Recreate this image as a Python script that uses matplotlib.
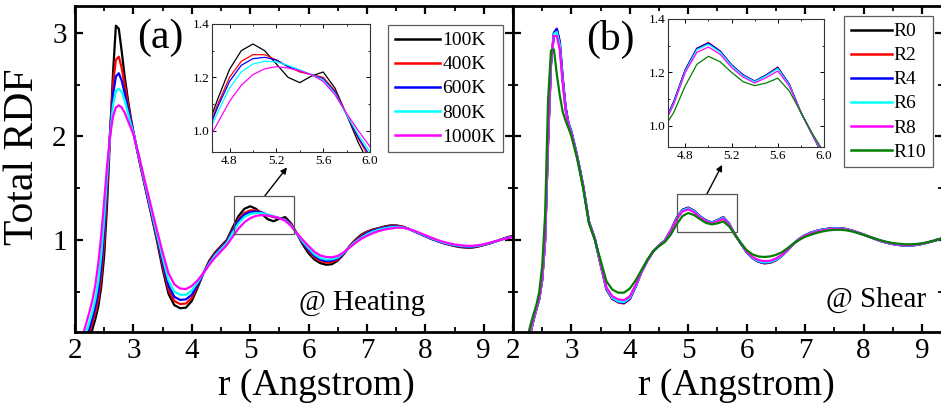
import matplotlib
matplotlib.use("Agg")
import matplotlib.pyplot as plt
from matplotlib.patches import Rectangle
from matplotlib.lines import Line2D
from matplotlib.ticker import MultipleLocator, FormatStrFormatter

plt.rcParams['font.family'] = 'serif'
plt.rcParams['font.serif'] = ['Liberation Serif', 'DejaVu Serif']
plt.rcParams['mathtext.fontset'] = 'custom'
plt.rcParams['mathtext.rm'] = 'Liberation Serif'
plt.rcParams['axes.formatter.use_mathtext'] = False

SERIF = 'Liberation Serif'

# ---------------- data ----------------
r = [2.10, 2.15, 2.20, 2.25, 2.30, 2.35, 2.40, 2.45, 2.50, 2.55, 2.60, 2.65, 2.70, 2.75, 2.80, 2.85, 2.90, 2.95, 3.00,
     3.1, 3.2, 3.3, 3.4, 3.5, 3.6, 3.7, 3.8, 3.9,
     4.0, 4.1, 4.2, 4.3, 4.4, 4.5, 4.6, 4.7, 4.8, 4.9,
     5.0, 5.1, 5.2, 5.3, 5.4, 5.5, 5.6, 5.7, 5.8, 5.9,
     6.0, 6.1, 6.2, 6.3, 6.4, 6.5, 6.6, 6.7, 6.8, 6.9,
     7.0, 7.1, 7.2, 7.3, 7.4, 7.5, 7.6, 7.7, 7.8, 7.9,
     8.0, 8.1, 8.2, 8.3, 8.4, 8.5, 8.6, 8.7, 8.8, 8.9,
     9.0, 9.1, 9.2, 9.3, 9.4, 9.5]

heat_labels = ['100K', '400K', '600K', '800K', '1000K']
heat_colors = ['#000000', '#ff0000', '#0000ff', '#00ffff', '#ff00ff']

g_100K = [-0.30, -0.20, -0.10, 0.02, 0.14, 0.24, 0.36, 0.55, 0.85, 1.35, 2.00, 2.60, 3.07, 3.04, 2.82, 2.58, 2.38, 2.20, 2.04,
          1.77, 1.51, 1.26, 1.00, 0.72, 0.48, 0.37, 0.34, 0.345,
          0.41, 0.54, 0.68, 0.80, 0.88, 0.94, 1.00, 1.12, 1.23, 1.30,
          1.325, 1.30, 1.25, 1.20, 1.18, 1.205, 1.22, 1.16, 1.06, 0.955,
          0.87, 0.81, 0.775, 0.76, 0.765, 0.80, 0.86, 0.94, 1.00, 1.05,
          1.08, 1.10, 1.115, 1.13, 1.14, 1.14, 1.13, 1.11, 1.085, 1.06,
          1.035, 1.01, 0.99, 0.97, 0.955, 0.94, 0.93, 0.925, 0.925, 0.935,
          0.95, 0.965, 0.985, 1.005, 1.025, 1.04]
g_400K = [-0.20, -0.10, 0.00, 0.10, 0.20, 0.30, 0.43, 0.64, 0.98, 1.48, 2.05, 2.50, 2.74, 2.77, 2.66, 2.50, 2.34, 2.18, 2.04,
          1.77, 1.52, 1.27, 1.02, 0.76, 0.52, 0.41, 0.38, 0.385,
          0.44, 0.56, 0.68, 0.79, 0.87, 0.93, 0.99, 1.10, 1.20, 1.26,
          1.285, 1.285, 1.265, 1.24, 1.22, 1.21, 1.20, 1.15, 1.06, 0.97,
          0.895, 0.83, 0.795, 0.78, 0.785, 0.81, 0.865, 0.935, 0.995, 1.04,
          1.075, 1.095, 1.11, 1.125, 1.135, 1.135, 1.13, 1.11, 1.085, 1.06,
          1.035, 1.01, 0.99, 0.97, 0.955, 0.943, 0.935, 0.93, 0.93, 0.938,
          0.952, 0.967, 0.985, 1.005, 1.022, 1.035]
g_600K = [-0.15, -0.05, 0.05, 0.15, 0.25, 0.36, 0.50, 0.74, 1.10, 1.57, 2.03, 2.40, 2.58, 2.61, 2.54, 2.42, 2.29, 2.16, 2.04,
          1.78, 1.53, 1.28, 1.04, 0.79, 0.56, 0.45, 0.42, 0.425,
          0.47, 0.57, 0.68, 0.78, 0.86, 0.92, 0.98, 1.09, 1.185, 1.245,
          1.27, 1.275, 1.265, 1.24, 1.225, 1.21, 1.195, 1.145, 1.06, 0.975,
          0.905, 0.845, 0.81, 0.795, 0.80, 0.82, 0.87, 0.93, 0.985, 1.03,
          1.065, 1.09, 1.105, 1.12, 1.13, 1.13, 1.125, 1.108, 1.085, 1.06,
          1.036, 1.012, 0.99, 0.972, 0.958, 0.946, 0.938, 0.934, 0.934, 0.94,
          0.953, 0.968, 0.985, 1.003, 1.02, 1.032]
g_800K = [-0.08, 0.02, 0.12, 0.21, 0.31, 0.43, 0.60, 0.86, 1.21, 1.63, 2.00, 2.30, 2.44, 2.46, 2.43, 2.35, 2.24, 2.13, 2.03,
          1.79, 1.54, 1.30, 1.06, 0.83, 0.61, 0.50, 0.47, 0.47,
          0.51, 0.59, 0.68, 0.77, 0.85, 0.91, 0.97, 1.07, 1.16, 1.22,
          1.25, 1.26, 1.258, 1.245, 1.228, 1.21, 1.19, 1.14, 1.06, 0.985,
          0.92, 0.86, 0.825, 0.81, 0.813, 0.83, 0.875, 0.93, 0.98, 1.02,
          1.055, 1.08, 1.098, 1.112, 1.122, 1.125, 1.122, 1.108, 1.087, 1.063,
          1.04, 1.016, 0.994, 0.976, 0.962, 0.95, 0.942, 0.938, 0.938, 0.944,
          0.955, 0.97, 0.986, 1.002, 1.018, 1.03]
g_1000K = [0.00, 0.11, 0.21, 0.31, 0.42, 0.57, 0.78, 1.05, 1.38, 1.72, 2.00, 2.19, 2.28, 2.30, 2.28, 2.23, 2.16, 2.09, 2.02,
           1.80, 1.56, 1.33, 1.10, 0.88, 0.68, 0.57, 0.53, 0.525,
           0.555, 0.61, 0.68, 0.76, 0.83, 0.89, 0.95, 1.03, 1.11, 1.17,
           1.21, 1.232, 1.24, 1.235, 1.225, 1.21, 1.185, 1.135, 1.065, 1.00,
           0.94, 0.885, 0.85, 0.835, 0.832, 0.845, 0.88, 0.925, 0.97, 1.01,
           1.04, 1.065, 1.085, 1.10, 1.11, 1.118, 1.118, 1.108, 1.09, 1.068,
           1.045, 1.022, 1.0, 0.982, 0.968, 0.956, 0.948, 0.943, 0.943, 0.948,
           0.958, 0.972, 0.987, 1.002, 1.016, 1.028]

shear_labels = ['R0', 'R2', 'R4', 'R6', 'R8', 'R10']
shear_colors = ['#000000', '#ff0000', '#0000ff', '#00ffff', '#ff00ff', '#008000']

g_R0 = [-0.30, -0.20, -0.10, 0.00, 0.10, 0.22, 0.33, 0.43, 0.62, 1.00, 1.95, 2.70, 2.99, 3.03, 2.90, 2.55, 2.27, 2.12, 2.04,
        1.80, 1.52, 1.17, 1.01, 0.76, 0.52, 0.43, 0.40, 0.39,
        0.43, 0.55, 0.69, 0.80, 0.89, 0.945, 0.995, 1.09, 1.21, 1.29,
        1.31, 1.28, 1.228, 1.19, 1.167, 1.19, 1.218, 1.155, 1.05, 0.965,
        0.88, 0.825, 0.79, 0.775, 0.78, 0.805, 0.845, 0.90, 0.96, 1.01,
        1.045, 1.07, 1.087, 1.10, 1.108, 1.113, 1.112, 1.105, 1.09, 1.072,
        1.052, 1.03, 1.008, 0.988, 0.972, 0.96, 0.951, 0.946, 0.946, 0.951,
        0.961, 0.975, 0.99, 1.008, 1.024, 1.04]
g_R2 = [-0.30, -0.20, -0.10, 0.00, 0.10, 0.22, 0.33, 0.43, 0.62, 1.01, 1.96, 2.71, 3.00, 3.04, 2.90, 2.55, 2.27, 2.12, 2.04,
        1.80, 1.52, 1.17, 1.01, 0.76, 0.52, 0.43, 0.395, 0.385,
        0.43, 0.55, 0.69, 0.80, 0.89, 0.945, 0.995, 1.09, 1.21, 1.29,
        1.312, 1.28, 1.228, 1.19, 1.167, 1.19, 1.22, 1.155, 1.05, 0.965,
        0.88, 0.825, 0.79, 0.773, 0.778, 0.803, 0.845, 0.90, 0.96, 1.01,
        1.045, 1.07, 1.087, 1.10, 1.108, 1.113, 1.112, 1.105, 1.09, 1.072,
        1.052, 1.03, 1.008, 0.988, 0.972, 0.96, 0.951, 0.946, 0.946, 0.951,
        0.961, 0.975, 0.99, 1.008, 1.024, 1.04]
g_R4 = [-0.28, -0.18, -0.08, 0.02, 0.11, 0.23, 0.33, 0.43, 0.61, 0.99, 1.93, 2.69, 3.00, 3.04, 2.92, 2.58, 2.29, 2.13, 2.05,
        1.81, 1.53, 1.18, 1.015, 0.765, 0.525, 0.435, 0.40, 0.392,
        0.432, 0.552, 0.69, 0.80, 0.89, 0.945, 0.995, 1.09, 1.21, 1.29,
        1.31, 1.28, 1.228, 1.19, 1.167, 1.19, 1.218, 1.155, 1.05, 0.965,
        0.88, 0.825, 0.79, 0.777, 0.782, 0.806, 0.846, 0.90, 0.96, 1.01,
        1.045, 1.07, 1.087, 1.10, 1.108, 1.113, 1.112, 1.105, 1.09, 1.072,
        1.052, 1.03, 1.008, 0.988, 0.972, 0.96, 0.951, 0.946, 0.946, 0.951,
        0.961, 0.975, 0.99, 1.008, 1.024, 1.04]
g_R6 = [-0.29, -0.19, -0.09, 0.01, 0.11, 0.23, 0.33, 0.43, 0.62, 1.00, 1.97, 2.71, 2.99, 3.01, 2.88, 2.54, 2.26, 2.12, 2.04,
        1.80, 1.52, 1.17, 1.01, 0.765, 0.53, 0.44, 0.405, 0.40,
        0.44, 0.555, 0.69, 0.80, 0.89, 0.945, 0.993, 1.085, 1.205, 1.285,
        1.305, 1.276, 1.225, 1.187, 1.165, 1.187, 1.214, 1.152, 1.05, 0.966,
        0.882, 0.828, 0.795, 0.782, 0.786, 0.81, 0.848, 0.902, 0.96, 1.01,
        1.043, 1.068, 1.085, 1.098, 1.106, 1.111, 1.11, 1.103, 1.089, 1.071,
        1.051, 1.03, 1.009, 0.989, 0.973, 0.961, 0.952, 0.947, 0.947, 0.952,
        0.962, 0.976, 0.991, 1.008, 1.024, 1.04]
g_R8 = [-0.28, -0.17, -0.07, 0.03, 0.13, 0.24, 0.34, 0.44, 0.63, 1.03, 2.00, 2.72, 2.97, 2.97, 2.84, 2.52, 2.25, 2.11, 2.03,
        1.80, 1.52, 1.17, 1.01, 0.77, 0.54, 0.455, 0.425, 0.418,
        0.455, 0.565, 0.695, 0.80, 0.89, 0.945, 0.99, 1.08, 1.20, 1.275,
        1.295, 1.268, 1.218, 1.182, 1.16, 1.18, 1.205, 1.148, 1.05, 0.967,
        0.885, 0.835, 0.805, 0.795, 0.798, 0.82, 0.855, 0.905, 0.962, 1.008,
        1.04, 1.063, 1.08, 1.093, 1.102, 1.107, 1.107, 1.10, 1.087, 1.07,
        1.05, 1.03, 1.01, 0.99, 0.975, 0.963, 0.955, 0.95, 0.95, 0.955,
        0.964, 0.977, 0.992, 1.008, 1.024, 1.038]
g_R10 = [-0.25, -0.12, -0.02, 0.07, 0.18, 0.28, 0.37, 0.50, 0.75, 1.25, 2.35, 2.83, 2.84, 2.60, 2.40, 2.24, 2.15, 2.08, 2.00,
         1.78, 1.50, 1.16, 1.00, 0.80, 0.60, 0.52, 0.49, 0.49,
         0.53, 0.61, 0.71, 0.81, 0.89, 0.94, 0.98, 1.05, 1.15, 1.23,
         1.26, 1.24, 1.20, 1.165, 1.15, 1.16, 1.178, 1.13, 1.05, 0.97,
         0.90, 0.86, 0.84, 0.835, 0.84, 0.855, 0.88, 0.92, 0.965, 1.00,
         1.03, 1.05, 1.068, 1.082, 1.092, 1.097, 1.098, 1.093, 1.082, 1.066,
         1.048, 1.03, 1.012, 0.995, 0.981, 0.97, 0.963, 0.958, 0.957, 0.96,
         0.967, 0.978, 0.992, 1.008, 1.022, 1.035]

heat_series = [g_100K, g_400K, g_600K, g_800K, g_1000K]
shear_series = [g_R0, g_R2, g_R4, g_R6, g_R8, g_R10]

# ---------------- figure ----------------
W, H = 941, 409
fig = plt.figure(figsize=(W / 100, H / 100), dpi=100)


def fx(px):
    return px / W


def fy(py):
    return 1 - py / H


def serif_ticks(ax):
    for lab in ax.get_xticklabels() + ax.get_yticklabels():
        lab.set_fontfamily(SERIF)


ax1 = fig.add_axes([fx(75), fy(332), (513 - 75) / W, (332 - 6) / H])
ax2 = fig.add_axes([fx(513), fy(332), (943 - 513) / W, (332 - 6) / H])

for ax, series, cols in [(ax1, heat_series, heat_colors), (ax2, shear_series, shear_colors)]:
    for g, c in zip(series, cols):
        ax.plot(r, g, color=c, lw=1.6)
    ax.set_ylim(0.11, 3.26)
    ax.xaxis.set_major_locator(MultipleLocator(1))
    ax.xaxis.set_minor_locator(MultipleLocator(0.5))
    ax.yaxis.set_major_locator(MultipleLocator(1))
    ax.yaxis.set_minor_locator(MultipleLocator(0.5))
    ax.xaxis.set_major_formatter(FormatStrFormatter('%d'))
    ax.yaxis.set_major_formatter(FormatStrFormatter('%d'))
    ax.tick_params(which='both', direction='in', top=True, right=True)
    ax.tick_params(which='major', length=6, width=1.6, labelsize=21, pad=4)
    ax.tick_params(which='minor', length=3.5, width=1.3)
    for s in ax.spines.values():
        s.set_linewidth(2.0)

ax1.set_xlim(2, 9.5)
ax2.set_xlim(2, 9.36)
ax2.tick_params(labelleft=False)
ax1.tick_params(axis='y', pad=6)

# labels
fig.text(fx(23), fy(157), 'Total RDF', rotation=90, ha='center', va='center', fontsize=30, family=SERIF)
fig.text(fx(316), fy(386), 'r (Angstrom)', ha='center', va='center', fontsize=27, family=SERIF)
fig.text(fx(736), fy(386), 'r (Angstrom)', ha='center', va='center', fontsize=27, family=SERIF)

ax1.text(0.194, 0.902, '(a)', transform=ax1.transAxes, ha='center', va='center', fontsize=30, family=SERIF)
ax2.text(0.2256, 0.896, '(b)', transform=ax2.transAxes, ha='center', va='center', fontsize=30, family=SERIF)
ax1.text(0.655, 0.089, '@ Heating', transform=ax1.transAxes, ha='center', va='center', fontsize=21, family=SERIF)
ax2.text(0.844, 0.098, '@ Shear', transform=ax2.transAxes, ha='center', va='center', fontsize=21, family=SERIF)

# zoom rectangles and arrows
ax1.add_patch(Rectangle((4.72, 1.058), 5.75 - 4.72, 1.425 - 1.058, fill=False, ec='#555555', lw=0.9, zorder=5))
ax2.add_patch(Rectangle((4.81, 1.077), 5.84 - 4.81, 1.445 - 1.077, fill=False, ec='#555555', lw=0.9, zorder=5))
ax1.annotate('', xy=(5.63, 1.70), xytext=(5.25, 1.425),
             arrowprops=dict(arrowstyle='-|>', color='black', lw=1.0, mutation_scale=9, shrinkA=0, shrinkB=0))
ax2.annotate('', xy=(5.58, 1.725), xytext=(5.32, 1.445),
             arrowprops=dict(arrowstyle='-|>', color='black', lw=1.0, mutation_scale=9, shrinkA=0, shrinkB=0))

# insets
in1 = fig.add_axes([fx(212), fy(152), (370 - 212) / W, (152 - 24) / H])
in2 = fig.add_axes([fx(668), fy(147), (824 - 668) / W, (147 - 19) / H])
for ax, series, cols in [(in1, heat_series, heat_colors), (in2, shear_series, shear_colors)]:
    for g, c in zip(series, cols):
        ax.plot(r, g, color=c, lw=0.9)
    ax.set_xlim(4.65, 6.0)
    ax.set_ylim(0.92, 1.4)
    ax.xaxis.set_major_locator(MultipleLocator(0.4))
    ax.xaxis.set_minor_locator(MultipleLocator(0.2))
    ax.yaxis.set_major_locator(MultipleLocator(0.2))
    ax.yaxis.set_minor_locator(MultipleLocator(0.1))
    ax.xaxis.set_major_formatter(FormatStrFormatter('%.1f'))
    ax.yaxis.set_major_formatter(FormatStrFormatter('%.1f'))
    ax.tick_params(which='both', direction='in', top=True, right=True, labelsize=9.5, pad=2)
    ax.tick_params(which='major', length=3, width=0.7)
    ax.tick_params(which='minor', length=1.5, width=0.6)
    for s in ax.spines.values():
        s.set_linewidth(0.8)
        s.set_color('#333333')

for ax in (ax1, ax2, in1, in2):
    serif_ticks(ax)

# legends
h1 = [Line2D([], [], color=c, lw=1.8) for c in heat_colors]
h2 = [Line2D([], [], color=c, lw=1.8) for c in shear_colors]
leg1 = fig.legend(h1, heat_labels, loc='upper left', bbox_to_anchor=(fx(388), fy(25)),
                  bbox_transform=fig.transFigure, prop={'family': SERIF, 'size': 14},
                  frameon=True, fancybox=False,
                  edgecolor='#333333', handlelength=2.3, handletextpad=0.15, labelspacing=0.33,
                  borderpad=0.35, borderaxespad=0)
leg1.get_frame().set_linewidth(0.9)
leg2 = fig.legend(h2, shear_labels, loc='upper left', bbox_to_anchor=(fx(844), fy(16)),
                  bbox_transform=fig.transFigure, prop={'family': SERIF, 'size': 14},
                  frameon=True, fancybox=False,
                  edgecolor='#333333', handlelength=2.1, handletextpad=0.1, labelspacing=0.33,
                  borderpad=0.35, borderaxespad=0)
leg2.get_frame().set_linewidth(0.9)

fig.savefig('out.png', dpi=100)
